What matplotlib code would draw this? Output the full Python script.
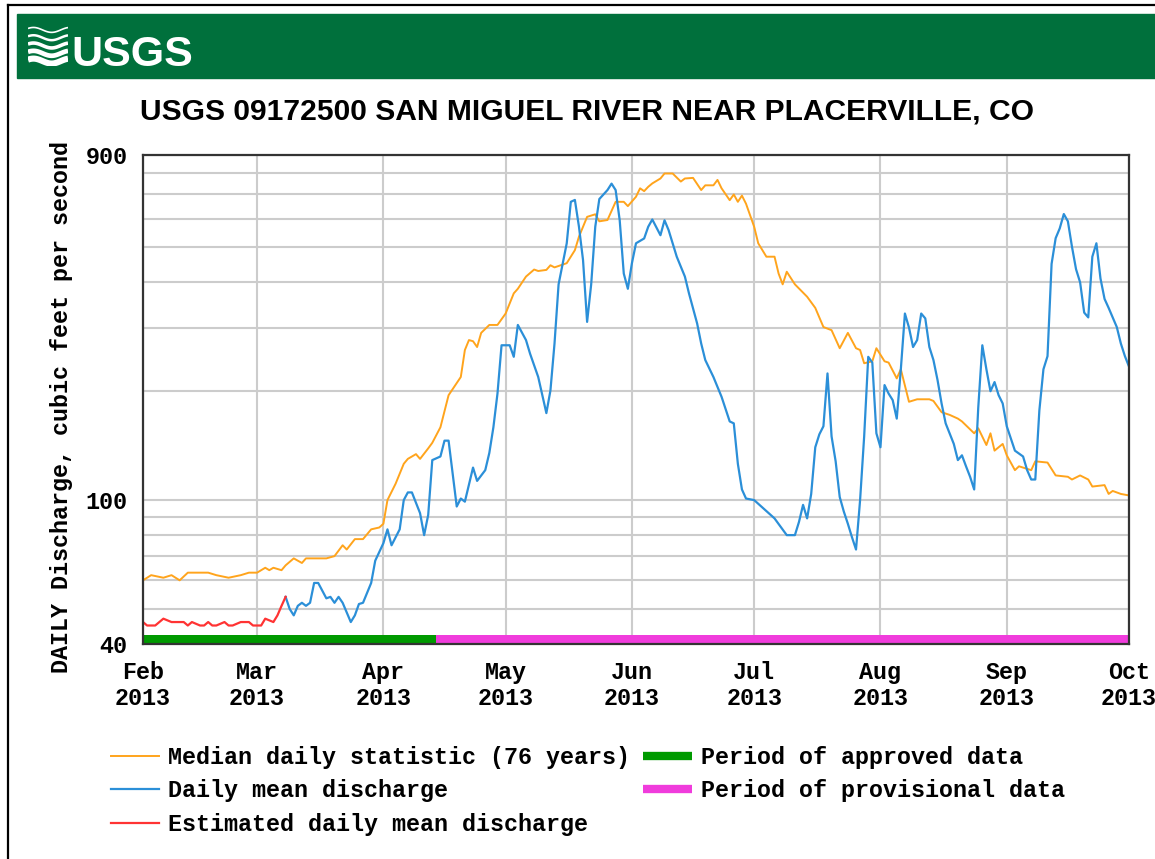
import numpy as np
import matplotlib
matplotlib.use("Agg")
import matplotlib.pyplot as plt
from matplotlib.lines import Line2D
from matplotlib.patches import Rectangle
from matplotlib.ticker import NullFormatter

# ---- data (days after 2013-02-01, discharge in cfs) ----
median_day = [0, 2, 5, 7, 9, 11, 14, 16, 18, 21, 24, 26, 28, 30, 31, 32, 34, 35, 37, 39,
              40, 45, 47, 49, 50, 52, 54, 56, 58, 59, 60, 62, 64, 65, 67, 68, 70, 71, 73, 75,
              78, 79, 80, 81, 82, 83, 85, 87, 89, 91, 92, 94, 96, 97, 99, 100, 101, 104, 106, 107,
              109, 111, 112, 114, 116, 118, 119, 121, 122, 123, 124, 125, 127, 128, 130, 132, 133, 135, 137, 138,
              140, 141, 142, 144, 145, 146, 147, 148, 150, 151, 153, 155, 156, 157, 158, 160, 163, 165, 167, 169,
              171, 173, 175, 176, 177, 179, 180, 182, 183, 185, 186, 188, 190, 193, 194, 196, 198, 200, 201, 204,
              205, 207, 208, 209, 211, 212, 214, 215, 218, 219, 222, 224, 227, 228, 230, 232, 233, 236, 237, 238,
              240, 242]
median_cfs = [60, 62, 61, 62, 60, 63, 63, 63, 62, 61, 62, 63, 63, 65, 64, 65, 64, 66, 69, 67,
              69, 69, 70, 75, 73, 78, 78, 83, 84, 86, 100, 111, 126, 130, 134, 130, 139, 144, 159, 195,
              219, 260, 277, 275, 265, 290, 305, 305, 328, 373, 384, 415, 434, 430, 433, 446, 440, 452, 491, 535,
              607, 617, 590, 595, 668, 668, 650, 690, 728, 715, 735, 751, 775, 800, 800, 760, 775, 778, 720, 742,
              742, 768, 728, 675, 700, 668, 695, 660, 570, 513, 471, 471, 423, 395, 428, 395, 365, 340, 301, 295,
              263, 290, 263, 260, 239, 242, 263, 242, 240, 217, 230, 187, 190, 190, 188, 175, 172, 168, 165, 153,
              158, 142, 153, 137, 143, 133, 121, 124, 121, 128, 127, 117, 116, 114, 117, 114, 109, 110, 104, 106,
              104, 103]

est_day = [0, 1, 3, 5, 7, 10, 11, 12, 14, 15, 16, 17, 18, 20, 21, 22, 24, 26, 27, 29, 30, 32, 33, 34, 35]
est_cfs = [46, 45, 45, 47, 46, 46, 45, 46, 45, 45, 46, 45, 45, 46, 45, 45, 46, 46, 45, 45, 47, 46, 48, 51, 54]

daily_day = [35, 36, 37, 38, 39, 40, 41, 42, 43, 45, 46, 47, 48, 49, 51, 52, 53, 54, 56, 57,
             59, 60, 61, 63, 64, 65, 66, 68, 69, 70, 71, 73, 74, 75, 77, 78, 79, 81, 82, 84,
             85, 86, 87, 88, 90, 91, 92, 94, 95, 97, 99, 100, 101, 102, 104, 105, 106, 107, 108, 109,
             110, 111, 112, 114, 115, 116, 117, 118, 119, 120, 121, 123, 124, 125, 127, 128, 129, 131, 133, 134,
             136, 137, 138, 140, 142, 144, 145, 146, 147, 148, 150, 155, 158, 160, 161, 162, 163, 164, 165, 166,
             167, 168, 169, 170, 171, 172, 173, 174, 175, 176, 177, 178, 179, 180, 181, 182, 183, 184, 185, 186,
             187, 188, 189, 190, 191, 192, 193, 194, 195, 196, 197, 199, 200, 201, 202, 203, 204, 205, 206, 207,
             208, 209, 210, 211, 212, 214, 216, 217, 218, 219, 220, 221, 222, 223, 224, 225, 226, 227, 228, 229,
             230, 231, 232, 233, 234, 235, 236, 237, 238, 239, 240, 241, 242]
daily_cfs = [54, 50, 48, 51, 52, 51, 52, 59, 59, 53.5, 54, 52, 54, 52, 46, 48, 51.6, 52, 59, 68,
             76, 83, 75, 83, 100, 105, 105, 92, 80, 91, 129, 132, 146, 146, 96, 101, 99, 123, 113, 121,
             135, 159, 197, 268, 268, 249, 305, 277, 254, 219, 174, 201, 271, 395, 513, 668, 676, 570, 461, 311,
             395, 570, 680, 720, 750, 720, 594, 423, 384, 452, 513, 529, 570, 597, 540, 594, 558, 471, 415, 373,
             308, 271, 244, 219, 193, 165, 163, 126, 107, 101, 100, 89, 80, 80, 87, 97, 89, 104, 140, 152,
             160, 224, 150, 128, 102, 93, 86, 79, 73, 100, 150, 249, 240, 153, 140, 208, 197, 189, 168, 230,
             328, 300, 265, 277, 328, 318, 265, 244, 215, 185, 163, 143, 129, 133, 124, 116, 107, 180, 268, 230,
             200, 212, 195, 185, 160, 137, 132, 121, 114, 114, 177, 230, 250, 450, 530, 564, 618, 590, 502, 435,
             400, 330, 320, 471, 513, 410, 360, 340, 320, 301, 271, 250, 234]

approved_end_day = 72
month_names = ["Feb", "Mar", "Apr", "May", "Jun", "Jul", "Aug", "Sep", "Oct"]
y_major = [40, 100, 900]
y_minor = [50, 60, 70, 80, 90, 200, 300, 400, 500, 600, 700, 800]

start = np.datetime64("2013-02-01")
end = np.datetime64("2013-10-01")

c_median = "#FFA41C"
c_daily = "#2B8FD8"
c_est = "#FF3333"
c_appr = "#009A00"
c_prov = "#F03CDC"

W, H = 1155, 859
fig = plt.figure(figsize=(W / 100, H / 100), dpi=100)
ax = fig.add_axes([143 / W, 1 - 644 / H, 986 / W, 489 / H])

mono = {"family": ["Liberation Mono", "DejaVu Sans Mono"], "weight": "bold", "size": 16.8}
sans = ["Liberation Sans", "DejaVu Sans"]

ax.plot(start + np.array(median_day), median_cfs, color=c_median, lw=1.4, zorder=3,
        label="Median daily statistic (76 years)")
ax.plot(start + np.array(daily_day), daily_cfs, color=c_daily, lw=1.6, zorder=4,
        label="Daily mean discharge")
ax.plot(start + np.array(est_day), est_cfs, color=c_est, lw=1.6, zorder=5,
        label="Estimated daily mean discharge")
ax.plot([], [], color=c_appr, lw=6, solid_capstyle="butt", label="Period of approved data")
ax.plot([], [], color=c_prov, lw=6, solid_capstyle="butt", label="Period of provisional data")

appr_end = start + np.timedelta64(approved_end_day, "D")
xt = ax.get_xaxis_transform()
ax.fill_between([start, appr_end], 0, 0.019, transform=xt, color=c_appr, lw=0, zorder=6)
ax.fill_between([appr_end, end], 0, 0.019, transform=xt, color=c_prov, lw=0, zorder=6)

ax.set_yscale("log")
ax.set_ylim(40, 900)
ax.set_xlim(start, end)
ax.set_yticks(y_major)
ax.set_yticklabels([str(v) for v in y_major])
ax.set_yticks(y_minor, minor=True)
ax.yaxis.set_minor_formatter(NullFormatter())
months = np.arange("2013-02", "2013-11", dtype="datetime64[M]").astype("datetime64[D]")
ax.set_xticks(months)
ax.set_xticklabels([m + "\n2013" for m in month_names])
ax.tick_params(which="both", length=0)
ax.tick_params(axis="y", pad=11)
ax.tick_params(axis="x", pad=12)
for lab in ax.get_xticklabels() + ax.get_yticklabels():
    lab.set_fontfamily(mono["family"])
    lab.set_fontweight("bold")
    lab.set_fontsize(mono["size"])
    lab.set_linespacing(1.2)

ax.grid(which="both", axis="y", color="#cccccc", lw=1.5)
ax.grid(which="major", axis="x", color="#cccccc", lw=1.5)
ax.set_axisbelow(True)
for s in ax.spines.values():
    s.set_color("#333333")
    s.set_linewidth(1.6)
    s.set_zorder(7)

ax.set_ylabel("DAILY Discharge, cubic feet per second", fontdict=mono)
ax.yaxis.set_label_coords(-0.071, 0.485)

ax.legend(loc="upper left", bbox_to_anchor=(111 / W, 1 - 746 / H), bbox_transform=fig.transFigure,
          ncol=2, frameon=False, prop=mono, handlelength=2.06, handletextpad=0.4,
          columnspacing=0.56, labelspacing=0.45, borderaxespad=0, borderpad=0)

# title
fig.text(587 / W, 1 - 111 / H, "USGS 09172500 SAN MIGUEL RIVER NEAR PLACERVILLE, CO",
         ha="center", va="center", fontsize=21.6, fontweight="bold", family=sans)

# header bar with logo
fig.patches.append(Rectangle((17 / W, 1 - 78 / H), 1, 64 / H, transform=fig.transFigure,
                             color="#00703C", zorder=-1))
fig.text(71 / W, 1 - 66 / H, "USGS", ha="left", va="baseline", color="white", fontsize=31,
         fontweight="bold", family=sans)
logo = fig.add_axes([28 / W, 1 - 66 / H, 40 / W, 41 / H])
logo.set_xlim(0, 1)
logo.set_ylim(0, 1)
logo.axis("off")
t = np.linspace(0, 1, 60)
for k, w in enumerate([1.2, 1.8, 2.6, 3.4, 4.4]):
    base = 0.88 - k * 0.19
    logo.plot(t, base + 0.06 * np.sin(2 * np.pi * (t * 1.1 + 0.1)), color="white", lw=w,
              solid_capstyle="butt")

# outer frame
fig.add_artist(Line2D([8 / W, 8 / W], [0, 1 - 5 / H], color="black", lw=1.6))
fig.add_artist(Line2D([8 / W, 1], [1 - 5 / H, 1 - 5 / H], color="black", lw=1.6))

fig.savefig("out.png", dpi=100)
